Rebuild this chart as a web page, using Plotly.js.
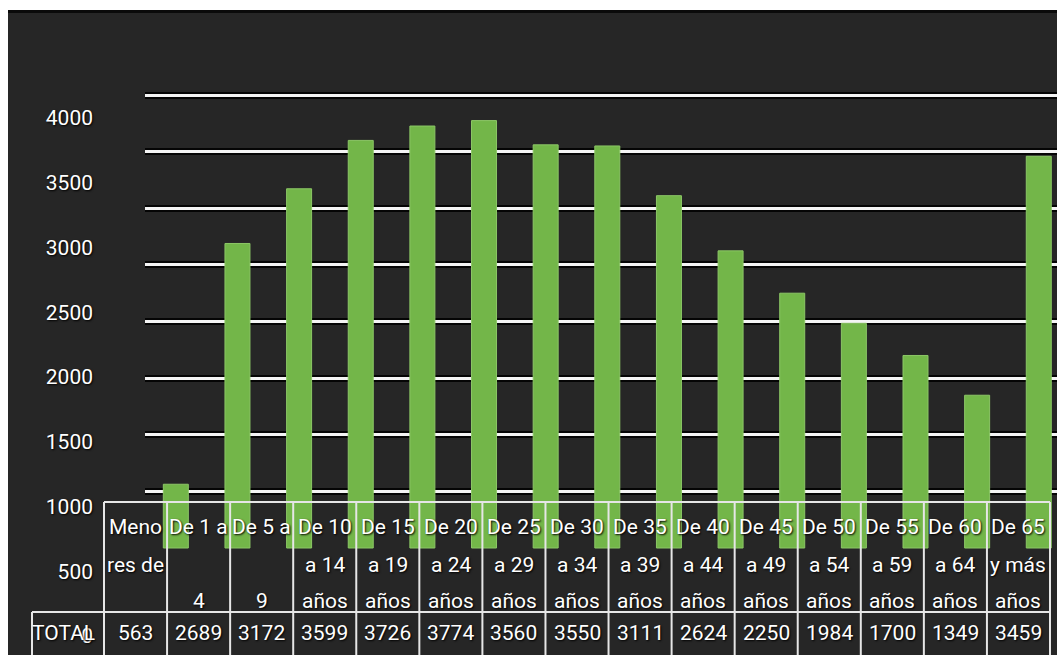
<!DOCTYPE html>
<html>
<head>
<meta charset="utf-8">
<script src="https://cdn.plot.ly/plotly-3.0.1.min.js"></script>
<style>html,body{margin:0;padding:0;background:#fff;}#chart{width:1057px;height:655px;}</style>
</head>
<body>
<div id="chart"></div>
<script>
// ---- data ----
const categories = [
  "Meno\nres de\n",
  "De 1 a\n\n4",
  "De 5 a\n\n9",
  "De 10\na 14\naños",
  "De 15\na 19\naños",
  "De 20\na 24\naños",
  "De 25\na 29\naños",
  "De 30\na 34\naños",
  "De 35\na 39\naños",
  "De 40\na 44\naños",
  "De 45\na 49\naños",
  "De 50\na 54\naños",
  "De 55\na 59\naños",
  "De 60\na 64\naños",
  "De 65\ny más\naños"
];
const totals = [563, 2689, 3172, 3599, 3726, 3774, 3560, 3550, 3111, 2624, 2250, 1984, 1700, 1349, 3459];
const rowLabel = "TOTAL";
const gridValues = [500, 1000, 1500, 2000, 2500, 3000, 3500, 4000];
const tickLabels = ["0", "500", "1000", "1500", "2000", "2500", "3000", "3500", "4000"];

// ---- layout helpers (pixels -> paper) ----
const W = 1057, H = 655;
const px = x => x / W;
const py = y => 1 - y / H;
const FONT = "Roboto, 'Liberation Sans', sans-serif";
const FS = 21;
const WHITE = "#ffffff";
const LINE = "#e6e6e6";
const SHADOW = "1px 1px 2px #000000";

const xCats = categories.map(c => c.replace(/\n/g, " ").trim());

// y axis for bars: value 0 at 548px, 4000 at 95px
const k1 = (548 - 95) / 4000;
const y1r0 = -(H - 548) / k1, y1r1 = y1r0 + H / k1;
// y axis for labels: 0 at ~636px, 4000 at ~118px
const k2 = (636 - 118) / 4000;
const y2r0 = -(H - 636) / k2, y2r1 = y2r0 + H / k2;

const slot = 61.64;
const xStart = 145;
const xMax = (W - xStart) / slot - 0.5;

const trace = {
  type: "bar",
  x: xCats,
  y: totals,
  width: 25 / slot,
  marker: { color: "#73b649", line: { color: "#8cc766", width: 1 } },
  hoverinfo: "x+y",
  showlegend: false
};

const labelTrace = {
  type: "scatter", x: [xCats[0]], y: [0], yaxis: "y2",
  mode: "markers", marker: { opacity: 0 }, hoverinfo: "skip", showlegend: false
};
const gridTrace = {
  type: "scatter", x: [xCats[0]], y: [0], yaxis: "y3",
  mode: "markers", marker: { opacity: 0 }, hoverinfo: "skip", showlegend: false
};

// table geometry
const colStart = 104, colW = (1050 - 104) / categories.length;
const tableTop = 502, rowDiv = 612, tableBottom = 660, totalLeft = 32;

const shapes = [];
shapes.push({ type: "rect", xref: "paper", yref: "paper", x0: px(8), x1: 1.01, y0: -0.01, y1: py(10),
  fillcolor: "#262626", line: { width: 0 }, layer: "below" });
shapes.push({ type: "line", xref: "paper", yref: "paper", x0: px(8), x1: 1.01, y0: py(11.5), y1: py(11.5),
  line: { color: "#0a0a0a", width: 3 }, layer: "below" });
shapes.push({ type: "line", xref: "paper", yref: "paper", x0: px(colStart), x1: px(1050), y0: py(tableTop), y1: py(tableTop),
  line: { color: LINE, width: 2 }, layer: "above" });
shapes.push({ type: "line", xref: "paper", yref: "paper", x0: px(totalLeft), x1: px(1050), y0: py(rowDiv), y1: py(rowDiv),
  line: { color: LINE, width: 2 }, layer: "above" });
shapes.push({ type: "line", xref: "paper", yref: "paper", x0: px(totalLeft), x1: px(totalLeft), y0: py(rowDiv), y1: py(tableBottom),
  line: { color: LINE, width: 2 }, layer: "above" });
for (let i = 0; i <= categories.length; i++) {
  const xx = colStart + i * colW;
  shapes.push({ type: "line", xref: "paper", yref: "paper", x0: px(xx), x1: px(xx), y0: py(tableTop), y1: py(tableBottom),
    line: { color: LINE, width: 2 }, layer: "above" });
}

const tfont = { family: FONT, size: FS, color: WHITE, shadow: SHADOW };
const annotations = [];
const lineY = [527, 565, 601];
categories.forEach((c, i) => {
  const cx = colStart + (i + 0.5) * colW;
  c.split("\n").forEach((t, j) => {
    if (!t) return;
    annotations.push({ xref: "paper", yref: "paper", x: px(cx), y: py(lineY[j]), text: t, showarrow: false,
      xanchor: "center", yanchor: "middle", font: tfont });
  });
  annotations.push({ xref: "paper", yref: "paper", x: px(cx), y: py(633), text: String(totals[i]), showarrow: false,
    xanchor: "center", yanchor: "middle", font: tfont });
});
annotations.push({ xref: "paper", yref: "paper", x: px(63), y: py(633), text: rowLabel, showarrow: false,
  xanchor: "center", yanchor: "middle", font: tfont });

const layout = {
  width: W, height: H,
  margin: { l: 0, r: 0, t: 0, b: 0, pad: 0 },
  paper_bgcolor: "#ffffff",
  plot_bgcolor: "rgba(0,0,0,0)",
  font: { family: FONT, size: FS, color: WHITE },
  xaxis: {
    domain: [px(xStart), 1],
    range: [-0.5, xMax],
    type: "category",
    showticklabels: false, showgrid: false, zeroline: false, showline: false, ticks: ""
  },
  yaxis: {
    domain: [0, 1],
    range: [y1r0, y1r1],
    tickvals: gridValues,
    showticklabels: false,
    showgrid: true, gridcolor: "#050505", gridwidth: 7,
    zeroline: false, showline: false, ticks: ""
  },
  yaxis3: {
    overlaying: "y", anchor: "x", side: "right",
    range: [y1r0, y1r1],
    tickvals: gridValues,
    showticklabels: false,
    showgrid: true, gridcolor: "#f4f4f4", gridwidth: 3,
    zeroline: false, showline: false, ticks: ""
  },
  yaxis2: {
    overlaying: "y", anchor: "x", side: "left",
    range: [y2r0, y2r1],
    tickvals: tickLabels.map(Number),
    ticktext: tickLabels,
    showgrid: false, zeroline: false, showline: false, ticks: "",
    ticklabelstandoff: 51,
    tickfont: tfont
  },
  bargap: 0.6,
  shapes: shapes,
  annotations: annotations,
  showlegend: false
};

Plotly.newPlot("chart", [trace, labelTrace, gridTrace], layout, { displayModeBar: false, staticPlot: true });
</script>
</body>
</html>
